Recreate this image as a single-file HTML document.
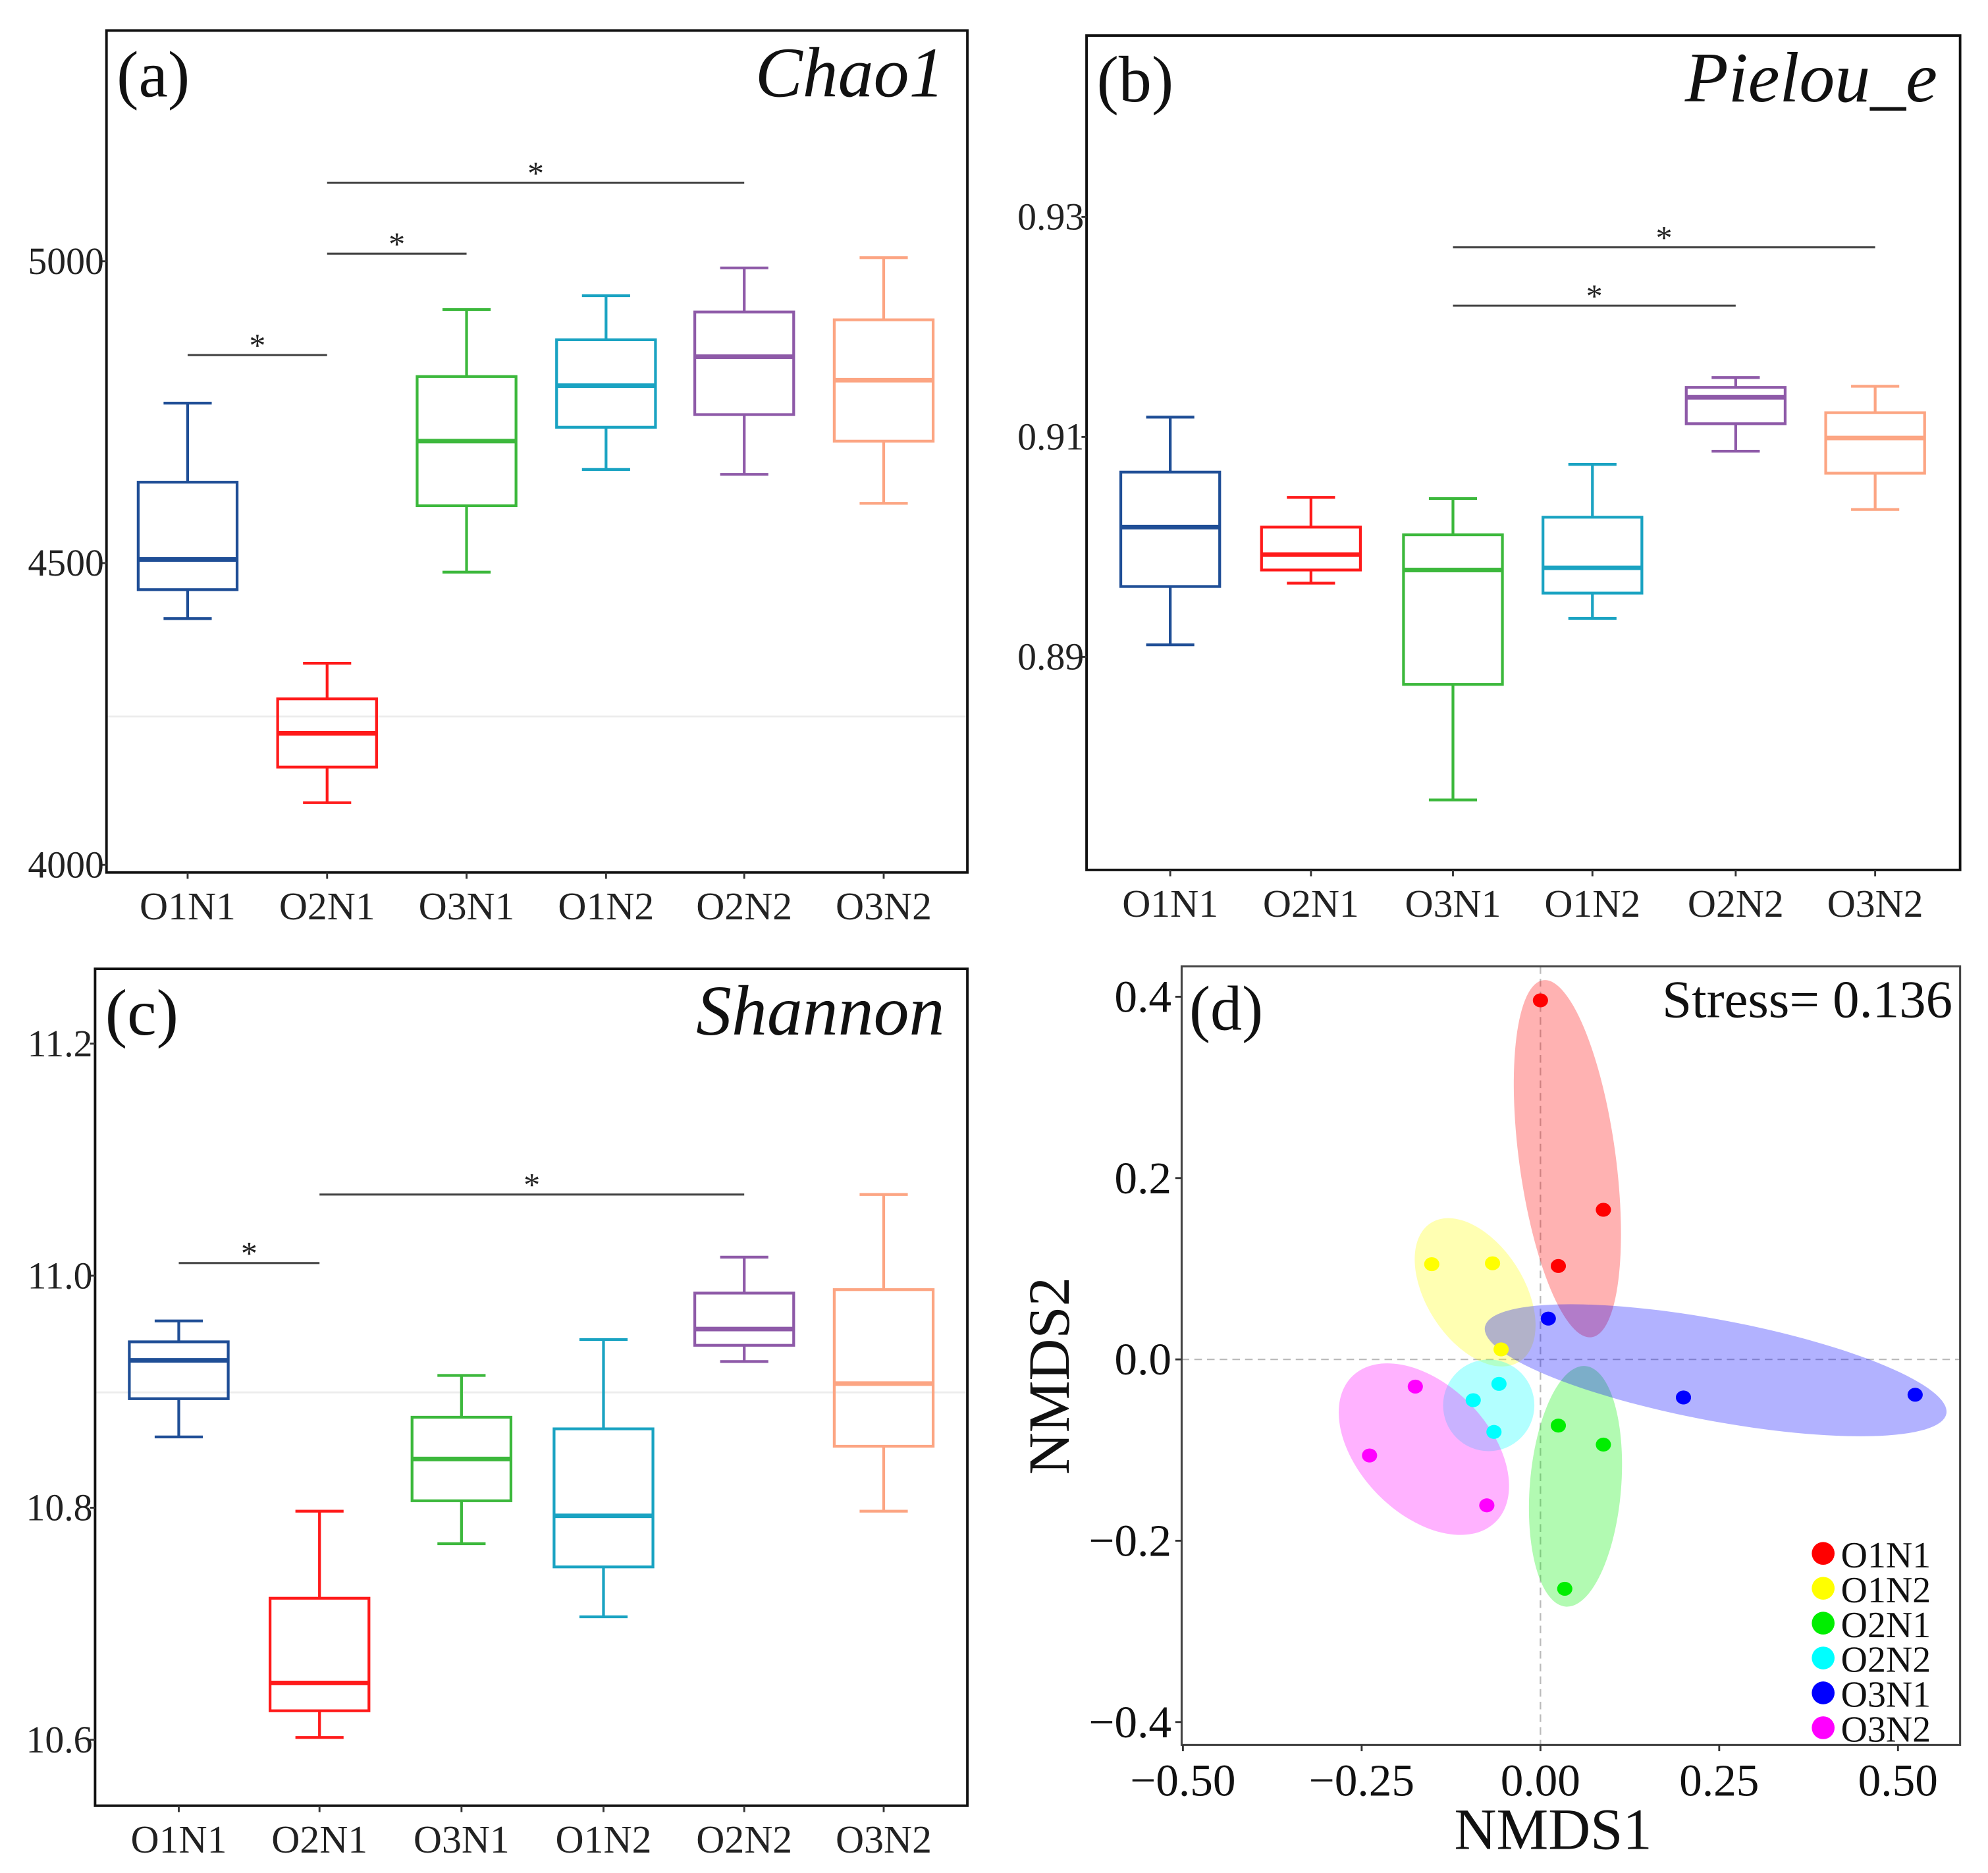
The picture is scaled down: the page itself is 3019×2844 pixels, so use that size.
<!DOCTYPE html>
<html><head><meta charset="utf-8">
<style>
html,body{margin:0;padding:0;background:#fff;}
svg{display:block;font-family:"Liberation Serif",serif;}
</style></head>
<body>
<svg id="fig" width="3019" height="2844" viewBox="0 0 1568 1477" xmlns="http://www.w3.org/2000/svg">
<rect width="1568" height="1477" fill="#fff"/>
</svg>
<script>
// ---------- data ----------
const groups = ["O1N1","O2N1","O3N1","O1N2","O2N2","O3N2"];
const boxColors = ["#1f4e96","#ff1a1a","#3cb83c","#1aa3c2","#8e5aa8","#fca583"];
// [lowWhisker, q1, median, q3, highWhisker]
const chaoStats = [
  [4408,4456,4506,4634,4765],
  [4103,4162,4218,4275,4334],
  [4485,4595,4702,4809,4920],
  [4655,4725,4794,4870,4943],
  [4647,4746,4842,4916,4989],
  [4599,4702,4803,4903,5006]];
const chaoTicks = [4000,4500,5000];
const chaoSig = [[0,1],[1,2],[1,4]];
const pielouStats = [
  [0.8911,0.8964,0.9018,0.9068,0.9118],
  [0.8967,0.8979,0.8993,0.9018,0.9045],
  [0.8770,0.8875,0.8979,0.9011,0.9044],
  [0.8935,0.8958,0.8981,0.9027,0.9075],
  [0.9087,0.9112,0.9136,0.9145,0.9154],
  [0.9034,0.9067,0.9099,0.9122,0.9146]];
const pielouTicks = [0.89,0.91,0.93];
const pielouSig = [[2,4],[2,5]];
const shannonStats = [
  [10.861,10.894,10.927,10.943,10.961],
  [10.602,10.625,10.649,10.722,10.797],
  [10.769,10.806,10.842,10.878,10.914],
  [10.706,10.749,10.793,10.868,10.945],
  [10.926,10.940,10.954,10.985,11.016],
  [10.797,10.853,10.907,10.988,11.070]];
const shannonTicks = [10.6,10.8,11.0,11.2];
const shannonSig = [[0,1],[1,4]];
const nmdsGroups = ["O1N1","O1N2","O2N1","O2N2","O3N1","O3N2"];
const nmdsColors = ["#ff0000","#ffff00","#00ee00","#00ffff","#0000ff","#ff00ff"];
const nmdsX = [[0.000,0.088,0.025],[-0.152,-0.067,-0.055],[0.025,0.088,0.034],[-0.058,-0.094,-0.065],[0.011,0.200,0.524],[-0.175,-0.239,-0.075]];
const nmdsY = [[0.396,0.165,0.103],[0.105,0.106,0.011],[-0.073,-0.094,-0.253],[-0.027,-0.045,-0.080],[0.045,-0.042,-0.039],[-0.030,-0.106,-0.161]];
const nmdsXTicks = [-0.50,-0.25,0.00,0.25,0.50];
const nmdsYTicks = [-0.4,-0.2,0.0,0.2,0.4];

// ---------- helpers ----------
const NS="http://www.w3.org/2000/svg";
const svg=document.getElementById('fig');
function mk(tag,attrs,parent,text){const e=document.createElementNS(NS,tag);for(const k in attrs)e.setAttribute(k,attrs[k]);if(text!==undefined)e.textContent=text;(parent||svg).appendChild(e);return e;}
function lin(d0,d1,r0,r1){return v=>r0+(v-d0)/(d1-d0)*(r1-r0);}

function boxPanel(cfg){
  const g=mk('g',{});
  
  
  const y=lin(cfg.d0,cfg.d1,cfg.r0,cfg.r1);
  if(cfg.faint!==undefined){const f=mk('line',{x1:cfg.L,x2:cfg.R,y1:cfg.faint,y2:cfg.faint,stroke:'#ececec','stroke-width':1.5},g);
    }
  const fr=mk('rect',{x:cfg.L,y:cfg.T,width:cfg.R-cfg.L,height:cfg.B-cfg.T,fill:'none',stroke:'#111','stroke-width':2},g);
  
  cfg.ticks.forEach(t=>{
    const yy=y(t);
    mk('line',{x1:cfg.L-4,x2:cfg.L,y1:yy,y2:yy,stroke:'#333','stroke-width':1.5},g);
    const tx=mk('text',{x:cfg.L-2,y:yy+10,'text-anchor':'end','font-size':30,fill:'#222'},g,cfg.fmt(t));
    
  });
  groups.forEach((gname,i)=>{
    const cx=cfg.xs[i], s=cfg.stats[i], c=boxColors[i], w=39, cw=19;
    const bg=mk('g',{stroke:c,fill:'none','stroke-width':2.2},g);
    
    
    mk('line',{x1:cx,x2:cx,y1:y(s[4]),y2:y(s[3])},bg);
    mk('line',{x1:cx,x2:cx,y1:y(s[1]),y2:y(s[0])},bg);
    mk('line',{x1:cx-cw,x2:cx+cw,y1:y(s[4]),y2:y(s[4])},bg);
    mk('line',{x1:cx-cw,x2:cx+cw,y1:y(s[0]),y2:y(s[0])},bg);
    mk('rect',{x:cx-w,y:y(s[3]),width:2*w,height:y(s[1])-y(s[3])},bg);
    mk('line',{x1:cx-w,x2:cx+w,y1:y(s[2]),y2:y(s[2]),'stroke-width':3.6},bg);
    mk('line',{x1:cx,x2:cx,y1:cfg.B,y2:cfg.B+5,stroke:'#333','stroke-width':1.5},g);
    const lb=mk('text',{x:cx,y:cfg.B+37,'text-anchor':'middle','font-size':31,fill:'#222'},g,gname);
    
  });
  cfg.sig.forEach((p,k)=>{
    const yy=cfg.sigY[k], x1=cfg.xs[p[0]], x2=cfg.xs[p[1]];
    const l=mk('line',{x1:x1,x2:x2,y1:yy,y2:yy,stroke:'#444','stroke-width':1.6},g);
    
    const st=mk('text',{x:(x1+x2)/2,y:yy+1,'text-anchor':'middle','font-size':26,fill:'#222'},g,'*');
    
  });
  const pl=mk('text',{x:cfg.L+8,y:cfg.T+52,'font-size':52,fill:'#111'},g,cfg.label);
  
  const tt=mk('text',{x:cfg.R-18,y:cfg.T+52,'text-anchor':'end','font-size':56,'font-style':'italic',fill:'#111'},g,cfg.title);
  
}

boxPanel({name:'chao1-panel',L:84,T:24,R:763,B:688,d0:4500,d1:5000,r0:444,r1:206,
  ticks:chaoTicks,fmt:t=>String(t),stats:chaoStats,xs:[148,258,368,478,587,697],
  sig:chaoSig,sigY:[280,200,144],label:'(a)',title:'Chao1',faint:565});
boxPanel({name:'pielou-panel',L:857,T:28,R:1546,B:686,d0:0.89,d1:0.93,r0:518,r1:171,
  ticks:pielouTicks,fmt:t=>t.toFixed(2),stats:pielouStats,xs:[923,1034,1146,1256,1369,1479],
  sig:pielouSig,sigY:[241,195],label:'(b)',title:'Pielou_e'});
boxPanel({name:'shannon-panel',L:75,T:764,R:763,B:1424,d0:10.6,d1:11.2,r0:1372,r1:823,
  ticks:shannonTicks,fmt:t=>t.toFixed(1),stats:shannonStats,xs:[141,252,364,476,587,697],
  sig:shannonSig,sigY:[996,942],label:'(c)',title:'Shannon',faint:1098});

// ---------- NMDS ----------
(function(){
  const L=932,T=762,R=1546,B=1376;
  const x=lin(0,0.5,1215,1497), y=lin(0,0.4,1072,786);
  const g=mk('g',{});
  
  
  const clip=mk('clipPath',{id:'nclip'},g);mk('rect',{x:L,y:T,width:R-L,height:B-T},clip);
  const inner=mk('g',{'clip-path':'url(#nclip)'},g);
  mk('line',{x1:x(0),x2:x(0),y1:T,y2:B,stroke:'#bbb','stroke-width':1.2,'stroke-dasharray':'6 4'},inner);
  mk('line',{x1:L,x2:R,y1:y(0),y2:y(0),stroke:'#bbb','stroke-width':1.2,'stroke-dasharray':'6 4'},inner);
  const k=1.15;
  nmdsGroups.forEach((gn,i)=>{
    const xs=nmdsX[i], ys=nmdsY[i], n=xs.length;
    const mx=xs.reduce((a,b)=>a+b)/n, my=ys.reduce((a,b)=>a+b)/n;
    const px=xs.map(x), py=ys.map(y);
    const pmx=x(mx), pmy=y(my);
    let sxx=0,syy=0,sxy=0;
    for(let j=0;j<n;j++){sxx+=(px[j]-pmx)**2;syy+=(py[j]-pmy)**2;sxy+=(px[j]-pmx)*(py[j]-pmy);}
    sxx/=(n-1);syy/=(n-1);sxy/=(n-1);
    const tr=sxx+syy, det=sxx*syy-sxy*sxy, disc=Math.sqrt(Math.max(0,tr*tr/4-det));
    const l1=tr/2+disc, l2=Math.max(tr/2-disc, 0);
    const ang=Math.atan2(l1-sxx,sxy)*180/Math.PI;
    const a=k*Math.sqrt(l1)+14, b=Math.max(k*Math.sqrt(l2)+14,36);
    const e=mk('ellipse',{cx:pmx,cy:pmy,rx:a,ry:b,transform:`rotate(${isNaN(ang)?0:ang} ${pmx} ${pmy})`,fill:nmdsColors[i],'fill-opacity':0.3},inner);
    
    
  });
  nmdsGroups.forEach((gn,i)=>{
    nmdsX[i].forEach((vx,j)=>{
      const c=mk('ellipse',{cx:x(vx),cy:y(nmdsY[i][j]),rx:6,ry:5.5,fill:nmdsColors[i]},inner);
      
      
    });
  });
  const fr=mk('rect',{x:L,y:T,width:R-L,height:B-T,fill:'none',stroke:'#444','stroke-width':1.6},g);
  
  nmdsXTicks.forEach(t=>{
    mk('line',{x1:x(t),x2:x(t),y1:B,y2:B+5,stroke:'#333','stroke-width':1.5},g);
    const tx=mk('text',{x:x(t),y:B+40,'text-anchor':'middle','font-size':36,fill:'#111'},g,(t<0?'\u2212':'')+Math.abs(t).toFixed(2));
    
  });
  nmdsYTicks.forEach(t=>{
    mk('line',{x1:L-5,x2:L,y1:y(t),y2:y(t),stroke:'#333','stroke-width':1.5},g);
    const tx=mk('text',{x:L-8,y:y(t)+12,'text-anchor':'end','font-size':36,fill:'#111'},g,(t<0?'\u2212':'')+Math.abs(t).toFixed(1));
    
  });
  const xt=mk('text',{x:1225,y:1458,'text-anchor':'middle','font-size':46,fill:'#111'},g,'NMDS1');
  
  const yt=mk('text',{x:0,y:0,'text-anchor':'middle','font-size':46,fill:'#111',transform:'translate(843,1085) rotate(-90)'},g,'NMDS2');
  
  const pl=mk('text',{x:938,y:812,'font-size':50,fill:'#111'},g,'(d)');
  
  const st=mk('text',{x:1540,y:802,'text-anchor':'end','font-size':42,fill:'#111'},g,'Stress= 0.136');
  
  nmdsGroups.forEach((gn,i)=>{
    const yy=1226+i*27.5;
    const le=mk('g',{},g);
    
    
    mk('circle',{cx:1438,cy:yy-1,r:9,fill:nmdsColors[i]},le);
    mk('text',{x:1452,y:yy+10,'font-size':29,fill:'#111'},le,gn);
  });
})();
</script>
</body></html>
